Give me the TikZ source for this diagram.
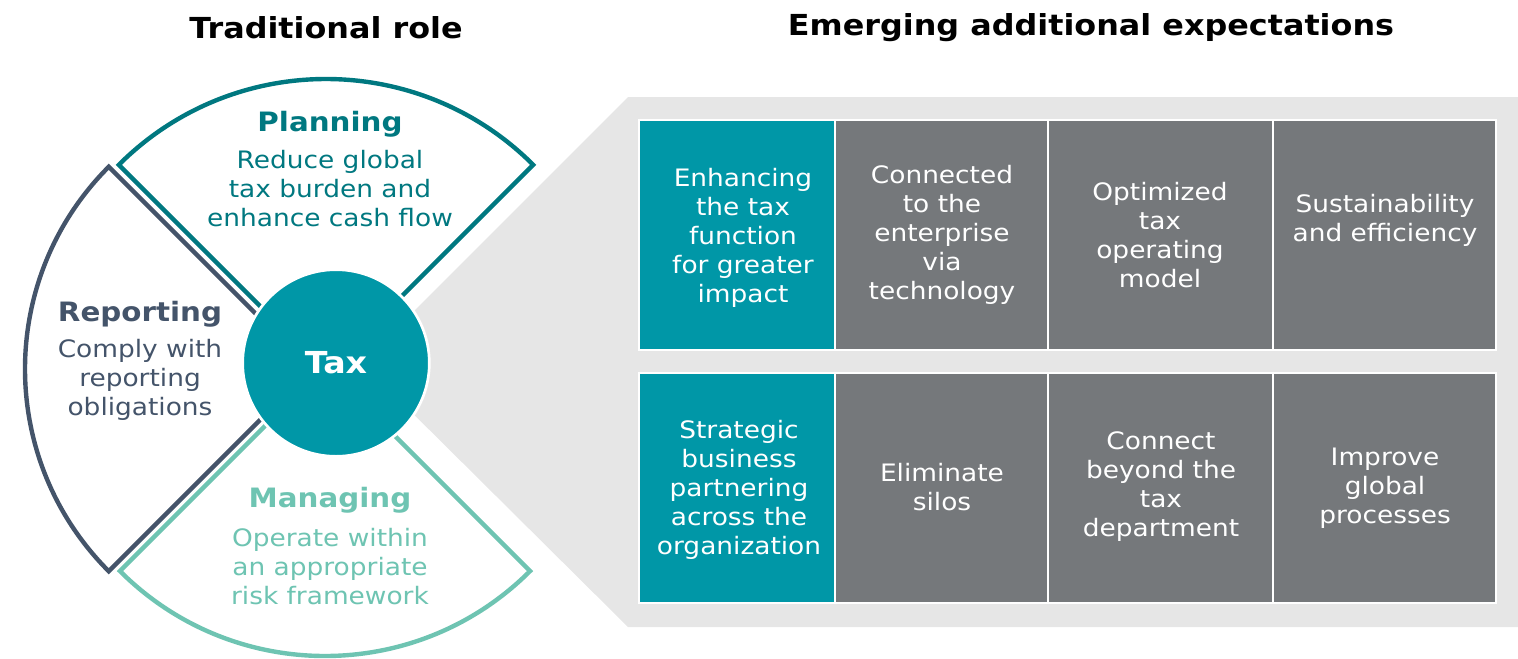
\documentclass[tikz,border=0pt]{standalone}
\usepackage{fontspec}
\setmainfont[FakeStretch=1.1]{DejaVu Sans}
\definecolor{tealbox}{RGB}{0,151,167}
\definecolor{plan}{RGB}{0,120,128}
\definecolor{rep}{RGB}{68,84,106}
\definecolor{man}{RGB}{110,196,178}
\definecolor{boxgray}{RGB}{117,120,123}
\definecolor{bggray}{RGB}{230,230,230}
\begin{document}
\begin{tikzpicture}[x=0.75pt,y=-0.75pt,
  sector/.style={line width=3.3pt, line join=miter, fill=white},
  body/.style={align=center, inner sep=0pt, font=\fontsize{18pt}{21.75pt}\selectfont},
  head/.style={inner sep=0pt, font=\fontsize{20pt}{23pt}\selectfont\bfseries},
  title/.style={inner sep=0pt, font=\fontsize{21.7pt}{25pt}\selectfont\bfseries, text=black},
  cell/.style={draw=white, line width=1.5pt, inner sep=0pt, minimum height=172.5pt},
  celltext/.style={body, text=white}
]
\useasboundingbox (0,0) rectangle (1518,658);

% titles
\node[title] (t1) at (326,28) {Traditional role};
\node[title] (t2) at (1091,28) {Emerging additional expectations};

% grey background wedge
\fill[bggray] (362,363) -- (628,97) -- (1518,97) -- (1518,627) -- (628,627) -- cycle;

% sectors
\draw[sector, draw=plan] (326,372) -- ++(225:293) arc[start angle=225, end angle=315, radius=293] -- cycle;
\draw[sector, draw=rep] (311,369) -- ++(135:286) arc[start angle=135, end angle=225, radius=286] -- cycle;
\draw[sector, draw=man] (325,366) -- ++(135:290) arc[start angle=135, end angle=45, radius=290] -- cycle;

% centre
\node[circle, fill=tealbox, draw=white, line width=2pt, minimum size=140pt, inner sep=0pt,
      text=white, font=\fontsize{22.7pt}{26pt}\selectfont\bfseries] (tax) at (336,363) {Tax};

% sector texts
\node[head, text=plan] (ph) at (330,124) {Planning};
\node[body, text=plan] (pb) at (330,189) {Reduce global\\tax burden and\\enhance cash flow};
\node[head, text=rep] (rh) at (140,314) {Reporting};
\node[body, text=rep] (rb) at (140,380) {Comply with\\reporting\\obligations};
\node[head, text=man] (mh) at (330,500) {Managing};
\node[body, text=man] (mb) at (330,567) {Operate within\\an appropriate\\risk framework};

% boxes row 1
\node[cell, fill=tealbox, minimum width=147pt] (b11) at (737,235) {};
\node[cell, fill=boxgray, minimum width=159.75pt] (b12) at (941.5,235) {};
\node[cell, fill=boxgray, minimum width=168.75pt] (b13) at (1160.5,235) {};
\node[cell, fill=boxgray, minimum width=167.25pt] (b14) at (1384.5,235) {};
% boxes row 2
\node[cell, fill=tealbox, minimum width=147pt] (b21) at (737,487.5) {};
\node[cell, fill=boxgray, minimum width=159.75pt] (b22) at (941.5,487.5) {};
\node[cell, fill=boxgray, minimum width=168.75pt] (b23) at (1160.5,487.5) {};
\node[cell, fill=boxgray, minimum width=167.25pt] (b24) at (1384.5,487.5) {};

% box texts
\node[celltext] (x11) at (743,238) {Enhancing\\the tax\\function\\for greater\\impact};
\node[celltext] (x12) at (942,235) {Connected\\to the\\enterprise\\via\\technology};
\node[celltext] (x13) at (1160,235) {Optimized\\tax\\operating\\model};
\node[celltext] (x14) at (1385,220) {Sustainability\\and efficiency};
\node[celltext] (x21) at (739,490) {Strategic\\business\\partnering\\across the\\organization};
\node[celltext] (x22) at (942,487) {Eliminate\\silos};
\node[celltext] (x23) at (1161,487) {Connect\\beyond the\\tax\\department};
\node[celltext] (x24) at (1385,488) {Improve\\global\\processes};
\end{tikzpicture}
\end{document}
